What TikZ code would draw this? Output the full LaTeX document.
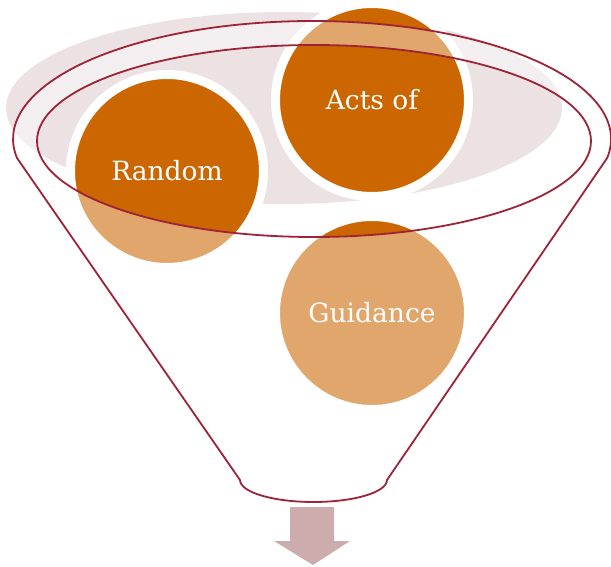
\documentclass[tikz,border=0pt]{standalone}
\usepackage{fontspec}
\newfontfamily\bubblefont{DejaVu Serif}

\definecolor{backpink}{RGB}{236,226,228}
\definecolor{deeporange}{RGB}{204,102,0}
\definecolor{funnelred}{RGB}{158,35,55}
\definecolor{arrowmauve}{RGB}{205,172,174}

\begin{document}
\begin{tikzpicture}[x=1pt,y=-1pt,
  bubble/.style={circle, fill=deeporange, draw=white, line width=9pt,
    minimum size=193pt, inner sep=0pt, text=white,
    font=\bubblefont\fontsize{26.5}{32}\selectfont}]
\useasboundingbox (0,0) rectangle (611,567);

% soft backdrop behind the mouth
\fill[backpink] (284,108) ellipse[x radius=278, y radius=96];

% the three bubbles
\node[bubble] (random) at (167,171) {Random};
\node[bubble] (acts) at (372,100) {Acts of};
\node[bubble] (guidance) at (372,313) {Guidance};

% funnel: rim + body washed with white, the mouth left clear
\path[fill=white, fill opacity=0.42, draw=funnelred, line width=1.8pt,
      even odd rule]
  (17,158) arc[start angle=170.73, end angle=369.27, x radius=299, y radius=118]
  -- (387,480) arc[start angle=0, end angle=180, x radius=73.5, y radius=22]
  -- cycle
  (314,141) ellipse[x radius=277, y radius=96];

% outlet arrow
\fill[arrowmauve] (290,507) -- (334,507) -- (334,541) -- (350,541)
  -- (313,565) -- (274,541) -- (290,541) -- cycle;
\end{tikzpicture}
\end{document}
